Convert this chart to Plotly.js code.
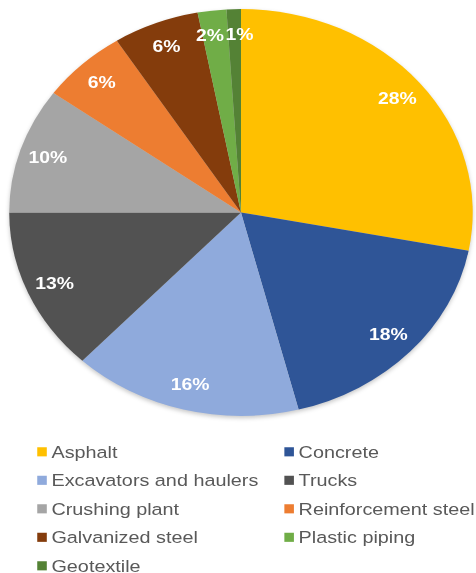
<!DOCTYPE html>
<html>
<head>
<meta charset="utf-8">
<script src="https://cdn.plot.ly/plotly-3.0.1.min.js"></script>
<style>
  html, body { margin: 0; padding: 0; background: #ffffff; overflow: hidden; }
  #wrap { width: 476px; height: 573px; overflow: hidden; }
  #chart { width: 450px; height: 573px; transform: scaleX(1.1388); transform-origin: 0 0; }
</style>
</head>
<body>
<div id="wrap"><div id="chart"></div></div>
<script>
// ---- data ----
const categories = ["Asphalt", "Concrete", "Excavators and haulers", "Trucks", "Crushing plant",
                    "Reinforcement steel", "Galvanized steel", "Plastic piping", "Geotextile"];
const shares = [28, 18, 16, 13, 10, 6, 6, 2, 1];
const sliceColors = ["#FFC000", "#2F5597", "#8FAADC", "#525252", "#A5A5A5",
                     "#ED7D31", "#843C0C", "#70AD47", "#548235"];

// ---- layout constants ----
const W = 450, H = 573;
const domX = [4.6 / W, 418.6 / W];
const domY = [1 - 416 / H, 1 - 9 / H];
const labelRadiusFrac = 0.875;
const labelSize = 17;
const legendRowStep = 28.5;

// label positions derived from the data (clockwise from 12 o'clock)
const total = shares.reduce((a, b) => a + b, 0);
const cx = (domX[0] + domX[1]) / 2 * W;
const cy = (1 - (domY[0] + domY[1]) / 2) * H;
const R = Math.min((domX[1] - domX[0]) * W, (domY[1] - domY[0]) * H) / 2;
let cum = 0;
const labels = shares.map((v) => {
  const mid = (cum + v / 2) / total * 2 * Math.PI;
  cum += v;
  const txt = Math.round(v / total * 100) + "%";
  return {
    px: cx + labelRadiusFrac * R * Math.sin(mid),
    py: cy - labelRadiusFrac * R * Math.cos(mid),
    txt: txt,
    w: ((txt.length - 1) * 0.556 + 0.889) * labelSize
  };
});
// push apart neighbouring labels that would collide (tiny slices)
for (let i = 0; i < labels.length; i++) {
  const a = labels[i], b = labels[(i + 1) % labels.length];
  if (Math.abs(a.py - b.py) < labelSize && Math.abs(a.px - b.px) < (a.w + b.w) / 2 + 1) {
    const need = (a.w + b.w) / 2 + 1 - Math.abs(a.px - b.px);
    const s = a.px <= b.px ? 1 : -1;
    a.px -= s * need / 2;
    b.px += s * need / 2;
  }
}
const annotations = labels.map(l => ({
  xref: "paper", yref: "paper", x: l.px / W, y: 1 - l.py / H,
  xanchor: "center", yanchor: "middle", showarrow: false,
  text: l.txt,
  font: { family: "Liberation Sans, Arial, sans-serif", size: labelSize, color: "#ffffff", weight: "bold" }
}));

const trace = {
  type: "pie",
  labels: categories,
  values: shares,
  sort: false,
  direction: "clockwise",
  rotation: 0,
  textinfo: "none",
  hoverinfo: "label+percent",
  marker: { colors: sliceColors, line: { color: "#ffffff", width: 0 } },
  domain: { x: domX, y: domY }
};

const layout = {
  width: W, height: H,
  margin: { l: 0, r: 0, t: 0, b: 0, autoexpand: false },
  paper_bgcolor: "#ffffff",
  showlegend: true,
  legend: {
    orientation: "h",
    x: 5.2 / W, y: 1 - 433 / H, xanchor: "left", yanchor: "top",
    entrywidth: 172, entrywidthmode: "pixels",
    font: { family: "Liberation Sans, Arial, sans-serif", size: 17.4, color: "#595959" },
    traceorder: "normal"
  },
  annotations: annotations
};

Plotly.newPlot("chart", [trace], layout, { displayModeBar: false, staticPlot: true }).then(() => {
  document.querySelectorAll("#chart .legend .legendpoints path").forEach(p => {
    p.setAttribute("transform", "translate(31.7,1) scale(0.7,0.76)");
  });
  // widen the legend row spacing
  const items = Array.from(document.querySelectorAll("#chart .legend .traces"));
  const ys = items.map(g => {
    const m = /translate\(\s*([-\d.]+)[ ,]+([-\d.]+)\s*\)/.exec(g.getAttribute("transform") || "");
    return m ? [parseFloat(m[1]), parseFloat(m[2])] : [0, 0];
  });
  const uniq = Array.from(new Set(ys.map(p => p[1]))).sort((a, b) => a - b);
  items.forEach((g, i) => {
    const row = uniq.indexOf(ys[i][1]);
    g.setAttribute("transform", "translate(" + ys[i][0] + "," + (uniq[0] + row * legendRowStep) + ")");
  });
  document.querySelectorAll("#chart .legend .scrollbox").forEach(s => s.removeAttribute("clip-path"));
  document.querySelectorAll("#chart .legend .bg").forEach(s => s.setAttribute("height", "200"));
  const pl = document.querySelector("#chart .pielayer");
  if (pl) pl.style.filter = "drop-shadow(0px 2px 2px rgba(0,0,0,0.22))";
});
</script>
</body>
</html>
